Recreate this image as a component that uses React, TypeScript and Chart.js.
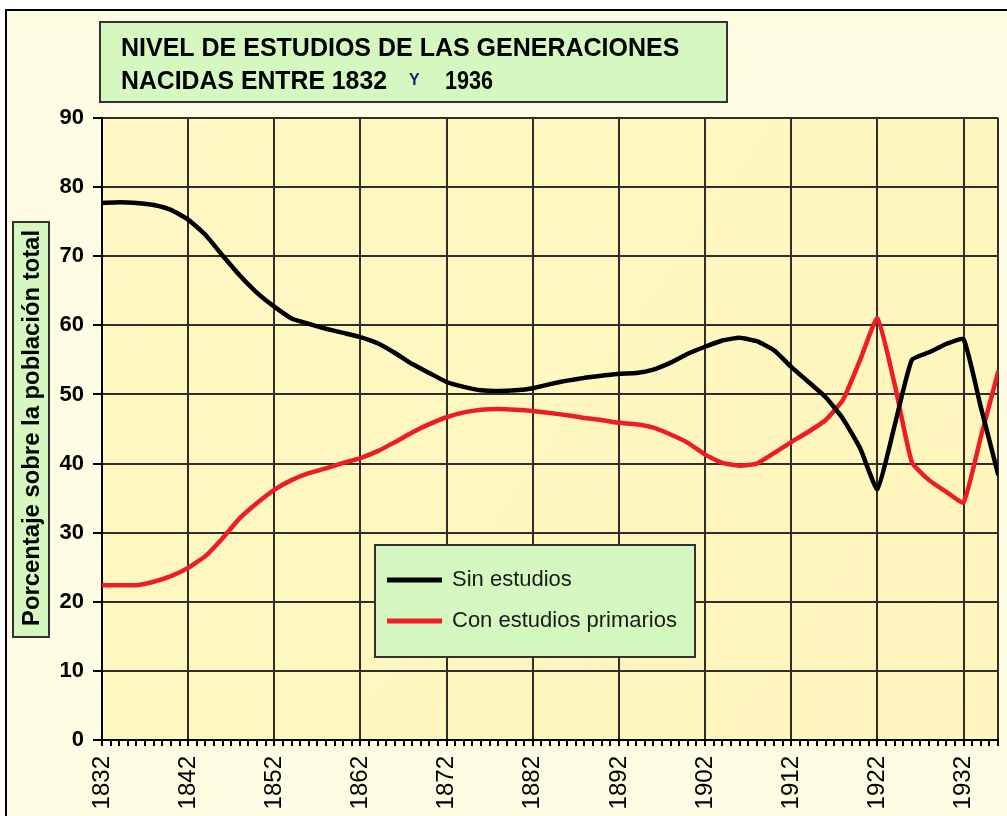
import React, { useEffect, useRef } from "react";
import { Chart, registerables } from "chart.js";

Chart.register(...registerables);

const years = [
  1832, 1834, 1836, 1838, 1840, 1842, 1844, 1846, 1848, 1850,
  1852, 1854, 1856, 1858, 1860, 1862, 1864, 1866, 1868, 1870,
  1872, 1874, 1876, 1878, 1880, 1882, 1884, 1886, 1888, 1890,
  1892, 1894, 1896, 1898, 1900, 1902, 1904, 1906, 1908, 1910,
  1912, 1914, 1916, 1918, 1920, 1922, 1924, 1926, 1928, 1930,
  1932, 1934, 1936,
];

const sinEstudios = [
  77.7, 77.8, 77.7, 77.4, 76.7, 75.3, 73.1, 70.1, 67.2, 64.7,
  62.7, 61.0, 60.2, 59.5, 58.9, 58.3, 57.4, 56.0, 54.4, 53.1,
  51.8, 51.1, 50.6, 50.5, 50.6, 50.9, 51.5, 52.0, 52.4, 52.7,
  53.0, 53.1, 53.6, 54.6, 55.9, 56.9, 57.8, 58.2, 57.7, 56.4,
  54.0, 51.8, 49.6, 46.5, 42.2, 36.3, 45.5, 55.0, 56.1, 57.3,
  58.0, 48.2, 38.5,
];

const conEstudios = [
  22.4, 22.4, 22.4, 22.9, 23.7, 24.9, 26.6, 29.2, 32.1, 34.3,
  36.2, 37.6, 38.6, 39.3, 40.1, 40.8, 41.8, 43.1, 44.5, 45.7,
  46.7, 47.4, 47.8, 47.9, 47.8, 47.6, 47.3, 47.0, 46.6, 46.3,
  45.9, 45.7, 45.2, 44.2, 43.0, 41.3, 40.1, 39.7, 40.0, 41.5,
  43.1, 44.6, 46.3, 49.2, 55.0, 61.0, 51.5, 40.2, 37.6, 35.9,
  34.4, 43.8, 53.2,
];

const seriesLabels = ["Sin estudios", "Con estudios primarios"];
const seriesColors = ["#000000", "#EE1D23"];

const xMin = 1832;
const xMax = 1936;
const xLabelStep = 10;
const yTicks = [0, 10, 20, 30, 40, 50, 60, 70, 80, 90];

const titleLine1 = "NIVEL DE ESTUDIOS DE LAS GENERACIONES";
const titleLine2a = "NACIDAS ENTRE 1832";
const titleY = "Y";
const titleLine2b = "1936";
const yAxisTitle = "Porcentaje sobre la población total";

const FONT = '"Liberation Sans", Arial, sans-serif';
const GREEN = "#D4F8BF";
const GRID = "#2f2f28";

const decorPlugin = {
  id: "decor",
  beforeDraw(chart: any) {
    const { ctx, chartArea } = chart;
    ctx.save();
    ctx.fillStyle = "#ffffff";
    ctx.fillRect(0, 0, chart.width, chart.height);
    ctx.fillStyle = "#FFFCE4";
    ctx.fillRect(5, 9, chart.width, chart.height);
    ctx.strokeStyle = "#000";
    ctx.lineWidth = 2;
    ctx.beginPath();
    ctx.moveTo(6, chart.height + 5);
    ctx.lineTo(6, 10);
    ctx.lineTo(chart.width + 5, 10);
    ctx.stroke();
    const g = ctx.createLinearGradient(chartArea.left, chartArea.top, chartArea.right, chartArea.bottom);
    g.addColorStop(0, "#FFF8C4");
    g.addColorStop(1, "#FFF5BC");
    ctx.fillStyle = g;
    ctx.fillRect(chartArea.left, chartArea.top, chartArea.right - chartArea.left, chartArea.bottom - chartArea.top);
    ctx.restore();
  },
  afterDraw(chart: any) {
    const { ctx } = chart;
    ctx.save();
    // title box
    ctx.fillStyle = GREEN;
    ctx.fillRect(100, 22, 627, 80);
    ctx.strokeStyle = "#333";
    ctx.lineWidth = 2;
    ctx.strokeRect(100, 22, 627, 80);
    ctx.fillStyle = "#000";
    ctx.textBaseline = "alphabetic";
    ctx.textAlign = "left";
    ctx.font = `bold 25px ${FONT}`;
    ctx.fillText(titleLine1, 121, 56, 563);
    ctx.fillText(titleLine2a, 121, 89, 266);
    ctx.fillText(titleLine2b, 445, 89, 48);
    ctx.font = `bold 16px ${FONT}`;
    ctx.fillStyle = "#1e1e6e";
    ctx.fillText(titleY, 409, 85);

    // y axis title box
    ctx.fillStyle = GREEN;
    ctx.fillRect(13, 222, 36, 415);
    ctx.strokeStyle = "#333";
    ctx.strokeRect(13, 222, 36, 415);
    ctx.save();
    ctx.translate(32, 428);
    ctx.rotate(-Math.PI / 2);
    ctx.fillStyle = "#000";
    ctx.font = `bold 24px ${FONT}`;
    ctx.textAlign = "center";
    ctx.textBaseline = "middle";
    ctx.fillText(yAxisTitle, 0, 0, 396);
    ctx.restore();

    // legend box
    ctx.fillStyle = GREEN;
    ctx.fillRect(375, 545, 320, 112);
    ctx.strokeStyle = "#333";
    ctx.lineWidth = 2;
    ctx.strokeRect(375, 545, 320, 112);
    const ds = chart.data.datasets;
    const rows = [580, 621];
    ds.forEach((d: any, i: number) => {
      const y = rows[i];
      ctx.strokeStyle = d.borderColor;
      ctx.lineWidth = 5;
      ctx.beginPath();
      ctx.moveTo(387, y);
      ctx.lineTo(442, y);
      ctx.stroke();
      ctx.fillStyle = "#1a1a1a";
      ctx.font = `22px ${FONT}`;
      ctx.textAlign = "left";
      ctx.textBaseline = "middle";
      ctx.fillText(d.label, 452, y, 226);
    });
    ctx.restore();
  },
};

export default function App() {
  const ref = useRef<HTMLCanvasElement | null>(null);

  useEffect(() => {
    if (!ref.current) return;
    const datasets = [sinEstudios, conEstudios].map((vals, i) => ({
      label: seriesLabels[i],
      data: years.map((yr, j) => ({ x: yr, y: vals[j] })),
      borderColor: seriesColors[i],
      backgroundColor: seriesColors[i],
      borderWidth: 4.5,
      pointRadius: 0,
      tension: 0.15,
      borderJoinStyle: "round" as const,
      borderCapStyle: "round" as const,
      fill: false,
    }));

    const chart = new Chart(ref.current, {
      type: "line",
      data: { datasets },
      plugins: [decorPlugin],
      options: {
        responsive: false,
        animation: false,
        layout: { padding: { left: 0, top: 118, right: 9, bottom: 0 } },
        plugins: {
          legend: { display: false },
          title: { display: false },
          tooltip: { enabled: false },
        },
        scales: {
          x: {
            type: "linear",
            min: xMin,
            max: xMax,
            afterBuildTicks(scale: any) {
              const t = [];
              for (let v = xMin; v <= xMax; v++) t.push({ value: v });
              scale.ticks = t;
            },
            afterFit(scale: any) {
              scale.height = 76;
              scale.paddingLeft = 0;
              scale.paddingRight = 0;
            },
            ticks: {
              autoSkip: false,
              maxRotation: 90,
              minRotation: 90,
              padding: 10,
              color: "#000",
              font: { family: FONT, size: 24 },
              callback: (v: any) => ((Number(v) - xMin) % xLabelStep === 0 ? String(v) : ""),
            },
            grid: {
              color: (c: any) => {
                const v = c.tick ? c.tick.value : 0;
                return (v - xMin) % xLabelStep === 0 || v === xMax ? GRID : "rgba(0,0,0,0)";
              },
              lineWidth: 2,
              tickColor: "#000",
              tickLength: 6,
              drawOnChartArea: true,
            },
            border: { color: "#000", width: 2 },
          },
          y: {
            min: 0,
            max: 90,
            afterBuildTicks(scale: any) {
              scale.ticks = yTicks.map((v) => ({ value: v }));
            },
            afterFit(scale: any) {
              scale.width = 102;
              scale.paddingTop = 0;
              scale.paddingBottom = 0;
            },
            ticks: {
              padding: 9,
              color: "#000",
              font: { family: FONT, size: 22, weight: "bold" },
            },
            grid: {
              color: GRID,
              lineWidth: 2,
              tickColor: "#000",
              tickLength: 9,
            },
            border: { color: "#000", width: 2 },
          },
        },
      },
    });
    return () => chart.destroy();
  }, []);

  return (
    <div style={{ position: "absolute", left: 0, top: 0, width: 1007, height: 816, overflow: "hidden" }}>
      <canvas ref={ref} width={1007} height={816} style={{ display: "block" }} />
    </div>
  );
}
